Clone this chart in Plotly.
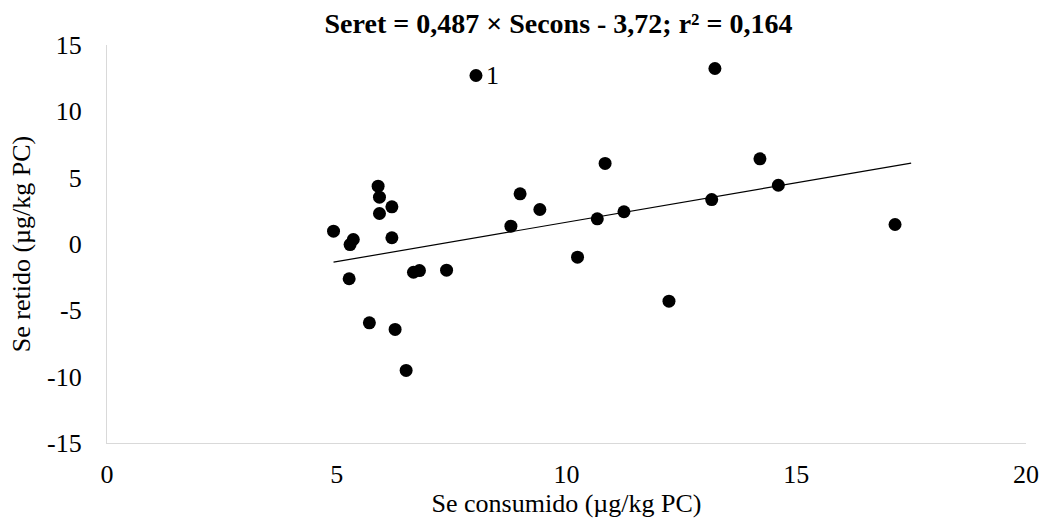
import plotly.graph_objects as go

# Observed points (Se consumido, Se retido)
se_consumido = [5.90, 5.93, 6.20, 5.93, 4.93, 6.20, 5.36, 5.29, 5.27, 6.67, 6.80, 7.39,
                5.71, 6.27, 6.51, 8.03, 8.99, 9.42, 8.79, 10.84, 10.67, 11.25,
                10.24, 12.23, 14.21, 14.61, 13.16, 13.23, 17.15]
se_retido = [4.36, 3.53, 2.80, 2.30, 0.97, 0.47, 0.34, -0.04, -2.62, -2.13, -2.00, -1.97,
             -5.94, -6.44, -9.53, 12.70, 3.78, 2.60, 1.34, 6.07, 1.90, 2.43,
             -0.99, -4.31, 6.42, 4.43, 3.35, 13.23, 1.47]

# Trend line endpoints as drawn
trend_x = [4.93, 17.5]
trend_y = [-1.37, 6.10]

# Labelled outlier
label_x = [8.03]
label_y = [12.70]
label_text = ["1"]

title_text = "<b>Seret = 0,487 × Secons - 3,72; r² = 0,164</b>"
x_title = "Se consumido (µg/kg PC)"
y_title = "Se retido (µg/kg PC)"
x_ticks = [0, 5, 10, 15, 20]
y_ticks = [-15, -10, -5, 0, 5, 10, 15]
x_ticktext = [str(v) for v in x_ticks]
y_ticktext = [str(v) for v in y_ticks]  # plain hyphen minus, as in the reference

FONT = "Liberation Serif, Times New Roman, serif"

fig = go.Figure()
fig.add_trace(go.Scatter(x=trend_x, y=trend_y, mode="lines",
                         line=dict(color="black", width=1.2), showlegend=False,
                         hoverinfo="skip"))
fig.add_trace(go.Scatter(x=se_consumido, y=se_retido, mode="markers",
                         marker=dict(color="black", size=13), showlegend=False))

for lx, ly, lt in zip(label_x, label_y, label_text):
    fig.add_annotation(x=lx, y=ly, text=lt, showarrow=False, xanchor="left",
                       xshift=8, font=dict(family=FONT, size=26, color="black"))

fig.update_layout(
    width=1042, height=520,
    margin=dict(l=107, r=16, t=45, b=77),
    paper_bgcolor="white", plot_bgcolor="white",
    font=dict(family=FONT, color="black", size=26),
    title=dict(text=title_text, x=0.536, xanchor="center", y=0.955, yanchor="middle",
               font=dict(family=FONT, size=28, color="black")),
)
fig.update_xaxes(range=[0, 20], tickvals=x_ticks, ticktext=x_ticktext, showgrid=False,
                 zeroline=False, automargin=False,
                 showline=True, linecolor="#d9d9d9", linewidth=1.3, ticks="",
                 tickfont=dict(size=26), ticklabelstandoff=8,
                 title=dict(text=x_title, font=dict(size=26), standoff=2))
fig.update_yaxes(range=[-15, 15], tickvals=y_ticks, ticktext=y_ticktext, showgrid=False,
                 zeroline=False, automargin=False,
                 showline=True, linecolor="#d9d9d9", linewidth=1.3, ticks="",
                 tickfont=dict(size=26), ticklabelstandoff=19,
                 title=dict(text=y_title, font=dict(size=26), standoff=8))

fig.write_html("out.html", config={"displayModeBar": False},
               post_script="document.body.style.margin='0';document.body.style.padding='0';")
